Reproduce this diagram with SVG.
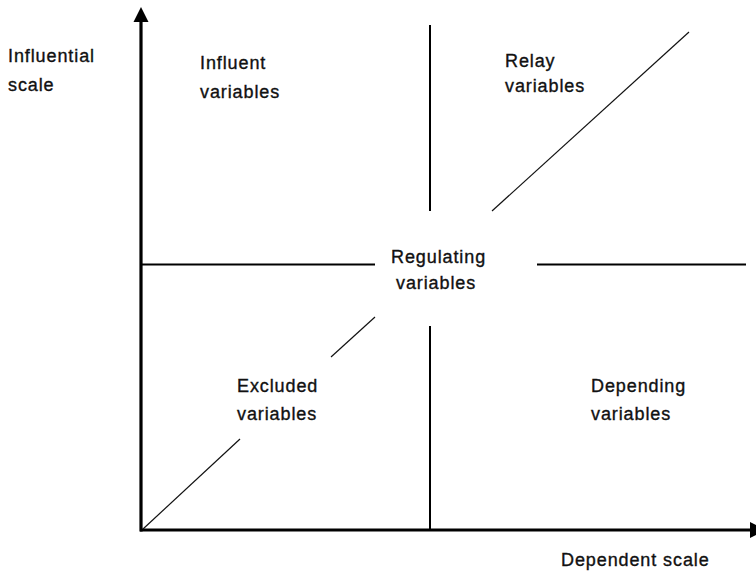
<svg xmlns="http://www.w3.org/2000/svg" width="756" height="571" viewBox="0 0 756 571">
  <style>
    .t { font-family: "Liberation Sans", Arial, sans-serif; font-size: 18px; fill: #111; stroke: #111; stroke-width: 0.35; letter-spacing: 0.9px; }
    .axis { stroke: #000; stroke-width: 3.2; fill: none; }
    .mid { stroke: #000; stroke-width: 2; fill: none; }
    .diag { stroke: #111; stroke-width: 1.2; fill: none; }
  </style>
  <rect width="756" height="571" fill="#fff"/>
  <g id="connectors">
    <line class="axis" x1="141" y1="531.5" x2="141" y2="20"/>
    <polygon points="141,7 148.5,22 133.5,22" fill="#000"/>
    <line class="axis" x1="140" y1="530" x2="752" y2="530"/>
    <polygon points="750,522 766,530 750,538" fill="#000"/>
    <line class="mid" x1="430" y1="25" x2="430" y2="211"/>
    <line class="mid" x1="430" y1="326" x2="430" y2="530"/>
    <line class="mid" x1="142" y1="264.5" x2="375" y2="264.5"/>
    <line class="mid" x1="537" y1="264.5" x2="746" y2="264.5"/>
    <line class="diag" x1="143" y1="529" x2="240" y2="439"/>
    <line class="diag" x1="331" y1="357" x2="375" y2="317"/>
    <line class="diag" x1="492" y1="211" x2="689" y2="32"/>
  </g>
  <g id="axis-y-label">
    <text class="t" x="8" y="62">Influential</text>
    <text class="t" x="8" y="91">scale</text>
  </g>
  <g id="axis-x-label">
    <text class="t" x="561" y="566">Dependent scale</text>
  </g>
  <g id="influent">
    <text class="t" x="200" y="69">Influent</text>
    <text class="t" x="200" y="98">variables</text>
  </g>
  <g id="relay">
    <text class="t" x="505" y="67">Relay</text>
    <text class="t" x="505" y="92">variables</text>
  </g>
  <g id="regulating">
    <text class="t" x="391" y="263">Regulating</text>
    <text class="t" x="396" y="289">variables</text>
  </g>
  <g id="excluded">
    <text class="t" x="237" y="392">Excluded</text>
    <text class="t" x="237" y="420">variables</text>
  </g>
  <g id="depending">
    <text class="t" x="591" y="392">Depending</text>
    <text class="t" x="591" y="420">variables</text>
  </g>
</svg>
